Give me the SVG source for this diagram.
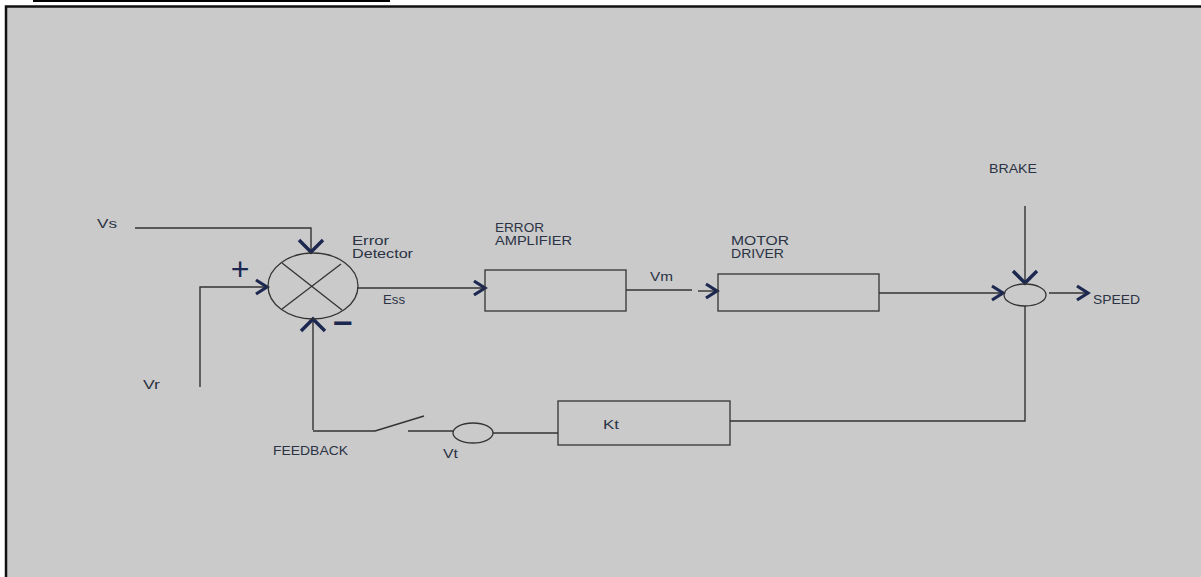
<svg xmlns="http://www.w3.org/2000/svg" width="1201" height="577" viewBox="0 0 1201 577">
<style>
.ln{stroke:#333;stroke-width:1.4;fill:none}
.sh{stroke:#333;stroke-width:1.3;fill:none}
.t{font-family:"Liberation Sans",Arial,sans-serif;font-size:13px;fill:#2b3345}
.sym{font-family:"Liberation Sans",Arial,sans-serif;fill:#1c2850}
</style>
<defs>
<marker id="ah" markerUnits="userSpaceOnUse" markerWidth="16" markerHeight="18" refX="12" refY="8" orient="auto" overflow="visible">
<path d="M1,1 L12,8 L1,15" fill="none" stroke="#1c2850" stroke-width="3.2"/>
</marker>
<marker id="ahw" markerUnits="userSpaceOnUse" markerWidth="16" markerHeight="28" refX="12" refY="12" orient="auto" overflow="visible">
<path d="M0,0 L12,12 L0,24" fill="none" stroke="#1c2850" stroke-width="3.4"/>
</marker>
</defs>
<rect x="0" y="0" width="1201" height="577" fill="#ffffff"/>
<line x1="33" y1="1" x2="390" y2="1" stroke="#000" stroke-width="2"/>
<rect x="6" y="6.5" width="1200" height="575" fill="#cacaca" stroke="#111" stroke-width="2.5"/>

<g id="connectors">
<polyline class="ln" points="135,228 311,228 311,252" marker-end="url(#ahw)"/>
<polyline class="ln" points="200,387 200,287 267,287" marker-end="url(#ah)"/>
<polyline class="ln" points="313,430 313,319" marker-end="url(#ahw)"/>
<line class="ln" x1="357" y1="288" x2="485" y2="288" marker-end="url(#ah)"/>
<line class="ln" x1="626" y1="290" x2="692" y2="290"/>
<line class="ln" x1="698" y1="291" x2="717" y2="291" marker-end="url(#ah)"/>
<line class="ln" x1="879" y1="293" x2="1003" y2="293" marker-end="url(#ah)"/>
<line class="ln" x1="1025" y1="206" x2="1025" y2="283" marker-end="url(#ahw)"/>
<line class="ln" x1="1049" y1="293" x2="1088" y2="293" marker-end="url(#ah)"/>
<polyline class="ln" points="1025,306 1025,421 730,421"/>
<line class="ln" x1="558" y1="433" x2="493" y2="433"/>
<line class="ln" x1="453" y1="431" x2="408" y2="431"/>
<polyline class="ln" points="424,416 375,431 313,431"/>
</g>

<g id="error-detector">
<ellipse class="sh" cx="313" cy="286" rx="45" ry="33"/>
<line class="sh" x1="282" y1="263" x2="342" y2="310"/>
<line class="sh" x1="282" y1="309" x2="341" y2="264"/>
<text class="t" x="352" y="245" textLength="37" lengthAdjust="spacingAndGlyphs">Error</text>
<text class="t" x="352" y="258" textLength="61" lengthAdjust="spacingAndGlyphs">Detector</text>
<text class="sym" x="240" y="280" font-size="32" text-anchor="middle">+</text>
<text class="sym" x="343" y="334" font-size="32" font-weight="bold" text-anchor="middle" textLength="20" lengthAdjust="spacingAndGlyphs">−</text>
</g>

<g id="error-amplifier">
<rect class="sh" x="485" y="270" width="141" height="41"/>
<text class="t" x="495" y="232" textLength="49" lengthAdjust="spacingAndGlyphs">ERROR</text>
<text class="t" x="495" y="245" textLength="77" lengthAdjust="spacingAndGlyphs">AMPLIFIER</text>
</g>

<g id="motor-driver">
<rect class="sh" x="718" y="274" width="161" height="37"/>
<text class="t" x="731" y="245" textLength="58" lengthAdjust="spacingAndGlyphs">MOTOR</text>
<text class="t" x="731" y="258" textLength="53" lengthAdjust="spacingAndGlyphs">DRIVER</text>
</g>

<g id="summing-point">
<ellipse class="sh" cx="1025" cy="295" rx="21" ry="11"/>
</g>

<g id="kt">
<rect class="sh" x="558" y="401" width="172" height="44"/>
<text class="t" x="603" y="429" textLength="16" lengthAdjust="spacingAndGlyphs">Kt</text>
</g>

<g id="vt">
<ellipse class="sh" cx="473" cy="433" rx="20" ry="10"/>
</g>

<g id="labels">
<text class="t" x="97" y="228" textLength="20" lengthAdjust="spacingAndGlyphs">Vs</text>
<text class="t" x="143" y="389" textLength="17" lengthAdjust="spacingAndGlyphs">Vr</text>
<text class="t" x="383" y="304" textLength="22" lengthAdjust="spacingAndGlyphs">Ess</text>
<text class="t" x="650" y="281" textLength="23" lengthAdjust="spacingAndGlyphs">Vm</text>
<text class="t" x="989" y="173" textLength="48" lengthAdjust="spacingAndGlyphs">BRAKE</text>
<text class="t" x="1093" y="304" textLength="47" lengthAdjust="spacingAndGlyphs">SPEED</text>
<text class="t" x="273" y="455" textLength="75" lengthAdjust="spacingAndGlyphs">FEEDBACK</text>
<text class="t" x="443" y="458" textLength="15" lengthAdjust="spacingAndGlyphs">Vt</text>
</g>
</svg>
